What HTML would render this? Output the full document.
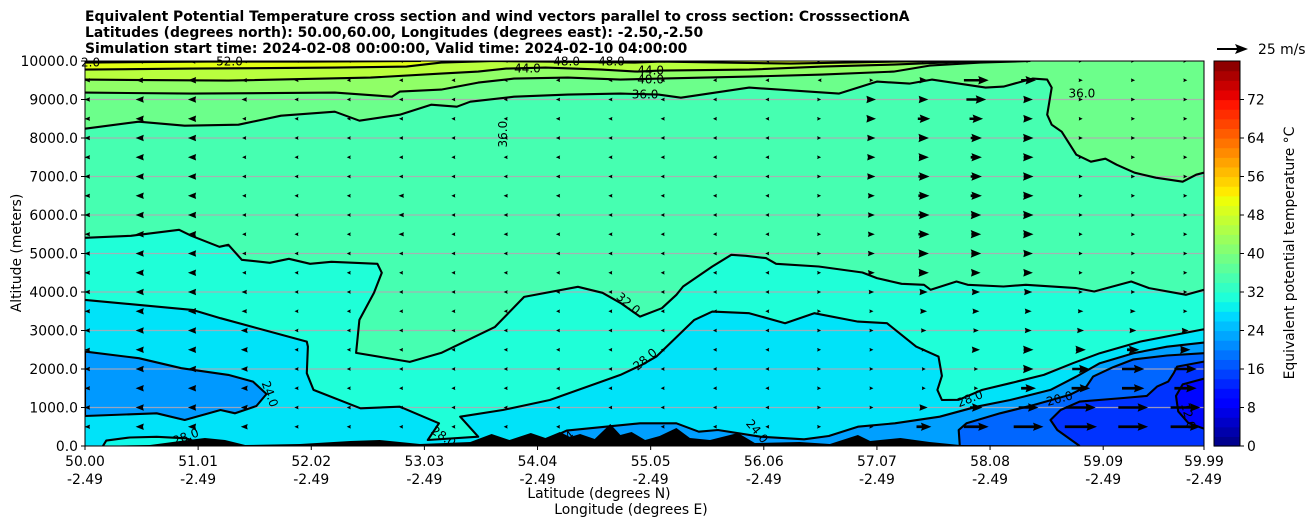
<!DOCTYPE html>
<html><head><meta charset="utf-8"><title>Equivalent Potential Temperature cross section</title>
<style>
html,body{margin:0;padding:0;background:#fff;}
svg{display:block;font-family:"DejaVu Sans","Liberation Sans",sans-serif;}
</style></head>
<body>
<svg id="chart" width="1308" height="526" viewBox="0 0 1308 526" xmlns="http://www.w3.org/2000/svg">
<defs><clipPath id="plotclip"><rect x="85" y="61" width="1119" height="385"/></clipPath></defs>
<g font-weight="bold" font-size="13.9" fill="#000">
<text x="85" y="21">Equivalent Potential Temperature cross section and wind vectors parallel to cross section: CrosssectionA</text>
<text x="85" y="37">Latitudes (degrees north): 50.00,60.00, Longitudes (degrees east): -2.50,-2.50</text>
<text x="85" y="53">Simulation start time: 2024-02-08 00:00:00, Valid time: 2024-02-10 04:00:00</text>
</g>
<g id="fills" clip-path="url(#plotclip)"></g>
<g id="grid" clip-path="url(#plotclip)"></g>
<g id="terrain" clip-path="url(#plotclip)"></g>
<g id="lines" clip-path="url(#plotclip)"></g>
<g id="clabels" font-size="12" fill="#000"></g>
<g id="arrows" clip-path="url(#plotclip)"></g>
<rect x="85" y="61" width="1119" height="385" fill="none" stroke="#000" stroke-width="1"/>
<g id="axes" font-size="13.9" fill="#000"></g>
<text x="0" y="0" transform="translate(21,253) rotate(-90)" text-anchor="middle" font-size="13.9">Altitude (meters)</text>
<text x="599" y="498" text-anchor="middle" font-size="13.9">Latitude (degrees N)</text>
<text x="631" y="514" text-anchor="middle" font-size="13.9">Longitude (degrees E)</text>
<g id="cbar" font-size="13.9"></g>
<text x="0" y="0" transform="translate(1294,253) rotate(-90)" text-anchor="middle" font-size="13.9">Equivalent potential temperature °C</text>
<g>
<polygon points="1217,48 1237,48 1235,44 1248,49 1235,54 1237,50 1217,50" fill="#000"/>
<text x="1258" y="54" font-size="13.9">25 m/s</text>
</g>
</svg>
<script>
// ---------- data ----------
const latTicks = [50.00,51.01,52.02,53.03,54.04,55.05,56.06,57.07,58.08,59.09,59.99];
const lonTickLabels = ["-2.49","-2.49","-2.49","-2.49","-2.49","-2.49","-2.49","-2.49","-2.49","-2.49","-2.49"];
const altTicks = [0,1000,2000,3000,4000,5000,6000,7000,8000,9000,10000];
const cbarTicks = [0,8,16,24,32,40,48,56,64,72];

const contour52 = [[50.00,9958],[51.1,9984],[52.0,9984],[53.0,10000]];
const contour48 = [[50.00,9776],[50.95,9802],[52.23,9828],[52.87,9854],[53.18,9958],[53.66,10000],[54.1,9984],[54.9,9958],[55.14,9984],[56.3,9932],[57.22,9984],[57.8,10000]];
const contour44 = [[50.00,9516],[51.28,9490],[52.55,9568],[53.18,9672],[53.51,9724],[53.76,9802],[54.11,9828],[54.61,9776],[54.93,9724],[55.14,9750],[55.93,9776],[56.58,9854],[57.22,9906],[57.88,9984],[58.1,10000]];
const contour40 = [[50.00,9178],[50.95,9152],[52.23,9178],[52.74,9074],[52.81,9204],[53.18,9256],[53.51,9438],[53.83,9542],[54.31,9568],[54.78,9516],[55.14,9542],[55.93,9594],[56.58,9646],[57.22,9724],[57.54,9880],[57.99,9958],[58.44,10000]];
const contour36 = [[50.00,8242],[50.48,8424],[50.89,8320],[51.37,8346],[51.75,8580],[52.23,8684],[52.45,8450],[52.81,8606],[53.09,8866],[53.32,8814],[53.44,8944],[53.83,9074],[54.31,9126],[54.78,9152],[55.12,9126],[55.32,9048],[55.93,9308],[56.73,9152],[57.07,9464],[57.36,9412],[57.56,9516],[58.04,9308],[58.20,9334],[58.46,9542],[58.59,9516],[58.63,9308],[58.59,8606],[58.63,8346],[58.72,8164],[58.85,7566],[58.98,7384],[59.11,7462],[59.21,7306],[59.37,7098],[59.56,6968],[59.80,6864],[59.92,7046],[59.99,7098]];
const contour32 = [[50.00,5408],[50.41,5460],[50.84,5616],[50.95,5460],[51.20,5174],[51.28,5226],[51.40,4836],[51.65,4758],[51.82,4862],[52.01,4732],[52.20,4784],[52.61,4732],[52.65,4498],[52.58,3978],[52.45,3276],[52.42,2418],[52.90,2184],[53.18,2418],[53.66,3094],[53.92,3874],[54.40,4134],[54.62,3978],[54.78,3718],[54.955,3362],[55.15,3580],[55.28,3926],[55.34,4142],[55.60,4662],[55.77,4966],[55.90,4940],[56.08,4880],[56.17,4732],[56.55,4662],[56.94,4506],[57.07,4360],[57.29,4212],[57.49,4186],[57.55,4056],[57.78,4272],[57.88,4186],[58.20,4142],[58.40,4186],[58.85,4100],[59.01,4012],[59.34,4272],[59.50,4100],[59.83,3926],[59.99,4056]];
const contour28 = [[50.00,3796],[50.96,3536],[51.21,3320],[51.98,2712],[51.99,2582],[51.98,1890],[52.04,1456],[52.46,980],[52.81,1022],[53.16,590],[53.06,156],[53.51,242],[53.35,762],[53.73,936],[54.15,1196],[54.78,1846],[54.97,2106],[55.10,2322],[55.44,3276],[55.60,3492],[55.93,3450],[56.25,3190],[56.51,3450],[56.90,3232],[57.16,3190],[57.42,2582],[57.62,2322],[57.65,1820],[57.61,1456],[57.65,1196],[57.80,1200],[58.01,1456],[58.26,1630],[58.56,1846],[58.82,2150],[59.06,2410],[59.42,2712],[59.96,3016],[59.99,3030]];
const contour28Ground = [[50.16,0],[50.19,140],[50.4,220],[50.64,240],[50.9,200],[51.1,0]];
const contour24Left = [[50.00,2452],[50.48,2280],[50.86,2020],[51.28,1846],[51.50,1672],[51.62,1350],[51.53,1040],[51.34,850],[51.21,936],[50.89,676],[50.64,850],[50.00,780]];
const contour24Right = [[54.0,0],[54.3,400],[54.955,590],[55.28,590],[55.48,372],[55.65,416],[56.03,242],[56.42,174],[56.64,260],[56.90,502],[57.23,590],[57.63,762],[57.96,1022],[58.26,1196],[58.62,1456],[58.85,1802],[59.06,2150],[59.36,2410],[59.66,2580],[59.99,2686]];
const contour20 = [[57.81,0],[57.80,416],[57.87,590],[58.17,850],[58.47,1066],[58.79,1326],[58.94,1542],[59.00,1802],[59.18,2050],[59.36,2250],[59.66,2350],[59.99,2410]];
const contour16 = [[58.88,0],[58.68,416],[58.62,676],[58.71,936],[58.88,1152],[59.27,1248],[59.48,1300],[59.57,1542],[59.67,1672],[59.72,1898],[59.75,2062],[59.99,2192]];
const contour12 = [[59.99,1750],[59.80,1600],[59.74,1300],[59.76,900],[59.85,600],[59.99,450]];
const terrain = [[50.0,0],[50.58,26],[50.85,130],[51.07,208],[51.25,156],[51.43,26],[51.92,52],[52.37,130],[52.63,156],[52.99,52],[53.44,104],[53.63,312],[53.79,156],[53.98,338],[54.11,208],[54.24,364],[54.33,234],[54.42,312],[54.55,182],[54.69,572],[54.78,286],[54.88,364],[55.00,156],[55.13,260],[55.28,468],[55.40,208],[55.58,156],[55.83,338],[55.98,78],[56.38,104],[56.65,52],[56.90,286],[57.01,130],[57.28,208],[57.54,104],[57.81,26],[59.99,0]];

const windLats = [50.018,50.485,50.952,51.419,51.886,52.353,52.82,53.287,53.754,54.221,54.688,55.155,55.622,56.089,56.556,57.023,57.49,57.957,58.424,58.891,59.358,59.825];
const windAlts = [10000,9500,9000,8500,8000,7500,7000,6500,6000,5500,5000,4500,4000,3500,3000,2500,2000,1500,1000,500];
const windU = [
[-4,-5,-5,-4,-3,-2,-2,-1,-1,-1,-1,-1,-1,-1,0,1,2,3,2,1,1,1],
[-4,-5,-6,-4,-3,-2,-3,-1,-1,-3,-3,-3,-1,-1,-1,2,6,20,12,3,3,2],
[-4,-6,-6,-4,-3,-2,-3,-1,-1,-3,-3,-3,-1,-1,1,7,7,16,7,3,3,2],
[-4,-6,-6,-3,-2,-2,-3,-1,-1,-3,-3,-3,-1,-1,1,7,10,11,7,2,2,2],
[-4,-6,-6,-3,-1,-1,-3,-1,-1,-3,-3,-3,-1,-1,2,6,8,9,8,3,3,2],
[-4,-6,-6,-3,-1,-1,-3,-1,-1,-3,-3,-3,-1,-1,2,6,8,9,8,3,3,2],
[-4,-6,-6,-3,-1,-1,-3,-1,-1,-3,-3,-2,-1,-1,2,6,9,9,8,2,3,2],
[-4,-6,-6,-3,-1,-1,-4,-1,-3,-3,-3,-1,-1,-1,2,5,9,9,8,2,2,2],
[-4,-6,-6,-3,-1,-1,-4,-1,-3,-2,-3,-1,-1,-1,2,5,9,8,8,2,2,2],
[-4,-6,-6,-3,-1,-1,-4,-1,-3,-3,-3,-1,-1,-1,2,5,9,8,8,2,2,2],
[-4,-6,-6,-3,-1,-1,-3,-1,-1,-3,-3,-1,-1,-1,2,5,8,8,7,2,2,2],
[-4,-6,-6,-3,-1,-1,-2,-1,-1,-2,-2,-1,-1,-1,2,5,8,7,7,2,2,2],
[-4,-6,-6,-4,-1,-1,-1,-1,-1,-1,-1,-1,-1,-1,1,4,6,6,6,3,3,2],
[-4,-6,-6,-4,-1,-1,-1,-1,-1,-1,-1,-1,-1,-1,1,3,5,5,5,4,4,3],
[-4,-6,-6,-5,-1,-1,-1,-1,-1,-1,-1,-1,-1,-1,1,3,4,4,5,5,5,5],
[-4,-6,-6,-5,-2,-1,-1,-1,-1,-1,-1,-1,-1,-1,1,2,3,6,8,8,10,8],
[-4,-6,-6,-5,-3,-1,-1,-1,-1,-1,-1,-1,-1,-1,1,2,2,3,8,14,18,18],
[-4,-6,-6,-5,-3,-2,-1,-1,-1,-1,-1,-1,-1,-1,1,2,2,3,12,15,18,18],
[-4,-6,-6,-5,-3,-3,-1,-1,-1,-1,-1,-1,-1,-1,1,2,6,10,16,24,24,24],
[-4,-6,-6,-5,-3,-3,-1,-1,-1,-1,-1,-1,-1,-1,1,3,12,20,24,26,24,24]
];

const clabelLats = [50.05,51.29,53.95,54.3,54.7,55.05,55.05,55.0,53.73,58.9,54.85,55.0,51.65,57.9,58.7,59.85,56.0,53.2,50.9,54.3];
const clabelAlts = [9958,9984,9802,9984,9984,9750,9520,9130,8100,9150,3700,2250,1350,1230,1230,780,380,240,240,200];
const clabelText = ["2.0","52.0","44.0","48.0","48.0","44.0","40.0","36.0","36.0","36.0","32.0","28.0","24.0","28.0","20.0","12.0","24.0","28.0","28.0","24"];
const clabelAngle = [0,0,0,0,0,0,0,0,-90,0,40,-40,70,-22,-15,75,50,35,-20,-40];

// ---------- scales ----------
const X = lat => 85 + (lat - 50) / 9.99 * 1119;
const Y = alt => 446 - alt / 10000 * 385;
const NS = "http://www.w3.org/2000/svg";
function mk(tag, attrs, parent){ const e = document.createElementNS(NS, tag); for (const k in attrs) e.setAttribute(k, attrs[k]); parent.appendChild(e); return e; }
function interp(pts, x){ for (let i=0;i<pts.length-1;i++){ if (x>=pts[i][0] && x<=pts[i+1][0]){ const t=(x-pts[i][0])/(pts[i+1][0]-pts[i][0]); return pts[i][1]+t*(pts[i+1][1]-pts[i][1]); } } return pts[pts.length-1][1]; }
const JR=[[0,0],[0.35,0],[0.66,1],[0.89,1],[1,0.5]], JG=[[0,0],[0.125,0],[0.375,1],[0.64,1],[0.91,0],[1,0]], JB=[[0,0.5],[0.11,1],[0.34,1],[0.65,0],[1,0]];
function jet(v){ const x=Math.max(0,Math.min(1,v/80)); const c=[JR,JG,JB].map(p=>Math.round(255*interp(p,x))); return `rgb(${c[0]},${c[1]},${c[2]})`; }
const P = pts => pts.map(p => X(p[0]).toFixed(1)+","+Y(p[1]).toFixed(1)).join(" ");

// ---------- fills ----------
const fillsG = document.getElementById("fills");
const base = mk("rect",{x:85,y:61,width:1119,height:385,fill:jet(34.8)},fillsG);


const layers = [
 ["fill-above-36", contour36.concat([[59.99,10000],[50,10000]]), 38.5],
 ["fill-above-40", contour40.concat([[50,10000]]), 42],
 ["fill-above-44", contour44.concat([[50,10000]]), 46],
 ["fill-above-48", contour48.concat([[50,10000]]), 50],
 ["fill-above-52", contour52.concat([[50,10000]]), 54],
 ["fill-below-32", contour32.concat([[59.99,0],[50,0]]), 31],
 ["fill-below-28", contour28.concat([[59.99,0],[50,0]]), 27.8],
 ["fill-ground-28", contour28Ground, 29.5],
 ["fill-below-24-left", contour24Left, 22],
 ["fill-below-24-right", contour24Right.concat([[59.99,0]]), 22.5],
 ["fill-below-20", contour20.concat([[59.99,0]]), 18],
 ["fill-below-16", contour16.concat([[59.99,0]]), 14],
 ["fill-below-12", contour12, 10.5]
];
layers.forEach(l => {
  const e = mk("polygon",{points:P(l[1]),fill:jet(l[2])},fillsG);
  
  
});

// ---------- grid ----------
const gridG = document.getElementById("grid");
altTicks.forEach(a => {
  const e = mk("line",{x1:85,x2:1204,y1:Y(a),y2:Y(a),stroke:"#b4a8b4","stroke-width":1.2,opacity:0.85},gridG);
  
  
});

// ---------- terrain ----------
const terrG = document.getElementById("terrain");
const tp = mk("polygon",{points:P(terrain.concat([[59.99,-100],[50,-100]])),fill:"#000"},terrG);



// ---------- contour lines ----------
const linesG = document.getElementById("lines");
[["contour-52",contour52],["contour-48",contour48],["contour-44",contour44],["contour-40",contour40],["contour-36",contour36],["contour-32",contour32],["contour-28",contour28],["contour-28-ground",contour28Ground],["contour-24-left",contour24Left.concat([contour24Left[0]])],["contour-24-right",contour24Right],["contour-20",contour20],["contour-16",contour16],["contour-12",contour12]].forEach(c => {
  const e = mk("polyline",{points:P(c[1]),fill:"none",stroke:"#000","stroke-width":2.1,"stroke-linejoin":"round"},linesG);
  
  
});

// ---------- contour labels ----------
const clG = document.getElementById("clabels");
clabelText.forEach((t,i) => {
  const x = X(clabelLats[i]), y = Y(clabelAlts[i]);
  const e = mk("text",{x:x,y:y+4,"text-anchor":"middle",transform:`rotate(${clabelAngle[i]} ${x} ${y})`},clG);
  e.textContent = t;
  
  
});

// ---------- wind vectors ----------
const arG = document.getElementById("arrows");
const PXPERMS = 31/25;
windAlts.forEach((alt, r) => {
  windLats.forEach((lat, c) => {
    const u = windU[r][c];
    const dir = u < 0 ? -1 : 1;
    let L = Math.max(Math.abs(u) * PXPERMS, 3.5);
    const hl=10.5, ha=9.5, hw=4.2, sw=1.3;
    let pts;
    if (L >= ha) {
      pts = [[-L/2,-sw],[L/2-ha,-sw],[L/2-hl,-hw],[L/2,0],[L/2-hl,hw],[L/2-ha,sw],[-L/2,sw]];
    } else {
      const s = L/ha;
      pts = [[-L/2,0],[L/2-hl*s,-hw*Math.max(s,0.45)],[L/2,0],[L/2-hl*s,hw*Math.max(s,0.45)]];
    }
    const cx = X(lat), cy = Y(alt);
    const e = mk("polygon",{points:pts.map(p=>(cx+dir*p[0]).toFixed(1)+","+(cy+p[1]).toFixed(1)).join(" "),fill:"#000"},arG);
    
    
  });
});

// ---------- axes ----------
const axG = document.getElementById("axes");
altTicks.forEach(a => {
  const t = mk("line",{x1:81,x2:85,y1:Y(a),y2:Y(a),stroke:"#000"},axG);
  
  
  const l = mk("text",{x:78,y:Y(a)+5,"text-anchor":"end"},axG);
  l.textContent = a.toFixed(1);
  
  
});
latTicks.forEach((lt,i) => {
  const x = X(lt);
  const t = mk("line",{x1:x,x2:x,y1:446,y2:450,stroke:"#000"},axG);
  
  
  const l = mk("text",{x:x,y:466,"text-anchor":"middle"},axG);
  l.textContent = lt.toFixed(2);
  
  
  const l2 = mk("text",{x:x,y:484,"text-anchor":"middle"},axG);
  l2.textContent = lonTickLabels[i];
  
  
});

// ---------- colorbar ----------
const cbG = document.getElementById("cbar");
const CY = v => 446 - v / 80 * 385;
for (let v = 0; v < 80; v += 2) {
  const e = mk("rect",{x:1214,y:CY(v+2),width:26,height:CY(v)-CY(v+2)+0.6,fill:jet(v+1)},cbG);
  
  
}
const cbf = mk("rect",{x:1214,y:61,width:26,height:385,fill:"none",stroke:"#000","stroke-width":1},cbG);


cbarTicks.forEach(v => {
  const t = mk("line",{x1:1240,x2:1244,y1:CY(v),y2:CY(v),stroke:"#000"},cbG);
  
  
  const l = mk("text",{x:1247,y:CY(v)+5},cbG);
  l.textContent = String(v);
  
  
});
</script>
</body></html>
